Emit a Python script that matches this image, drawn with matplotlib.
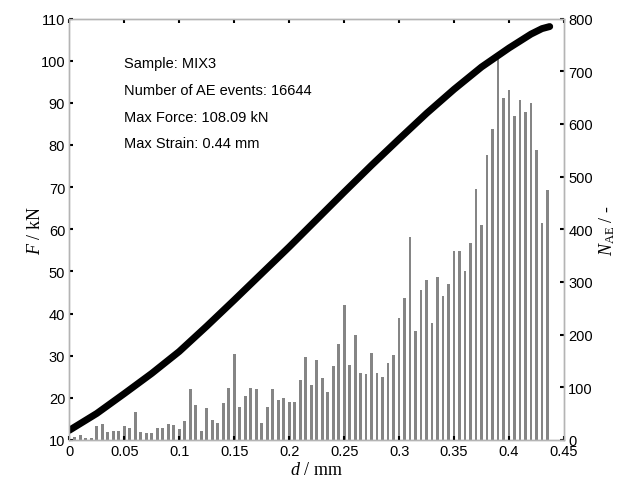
import matplotlib
matplotlib.use("Agg")
import matplotlib.pyplot as plt
import numpy as np

# --- data ---
bin_pos = [round(0.005 * (i + 1), 3) for i in range(87)]  # bar positions (mm)
ae_counts = [5, 10, 3, 3, 26, 30, 15, 18, 18, 26,
             22, 53, 15, 13, 13, 23, 23, 30, 28, 20,
             36, 96, 66, 18, 61, 38, 33, 71, 99, 163,
             63, 84, 99, 96, 33, 63, 96, 76, 80, 73,
             73, 114, 157, 104, 152, 117, 92, 140, 183, 257,
             143, 199, 127, 125, 166, 127, 120, 147, 161, 231,
             270, 386, 206, 285, 303, 223, 310, 273, 297, 358,
             358, 320, 374, 477, 409, 541, 590, 726, 650, 665,
             615, 645, 622, 640, 551, 412, 475]
disp = [0, 0.025, 0.05, 0.075, 0.1, 0.125, 0.15, 0.175, 0.2, 0.225, 0.25,
        0.275, 0.3, 0.325, 0.35, 0.375, 0.4, 0.42, 0.43, 0.437]
force = [12.3, 16.3, 21.0, 25.8, 31.0, 37.0, 43.2, 49.5, 55.8, 62.3, 68.8,
         75.2, 81.4, 87.5, 93.2, 98.5, 103.0, 106.3, 107.6, 108.09]
x_ticks = [0, 0.05, 0.1, 0.15, 0.2, 0.25, 0.3, 0.35, 0.4, 0.45]
x_ticklabels = ["0", "0.05", "0.1", "0.15", "0.2", "0.25", "0.3", "0.35", "0.4", "0.45"]
f_ticks = [10, 20, 30, 40, 50, 60, 70, 80, 90, 100, 110]
n_ticks = [0, 100, 200, 300, 400, 500, 600, 700, 800]
info_lines = ["Sample: MIX3", "Number of AE events: 16644",
              "Max Force: 108.09 kN", "Max Strain: 0.44 mm"]

plt.rcParams['mathtext.fontset'] = 'custom'
plt.rcParams['mathtext.rm'] = 'Liberation Serif'
plt.rcParams['mathtext.it'] = 'Liberation Serif:italic'
plt.rcParams['font.family'] = ['Liberation Sans', 'DejaVu Sans']

fig = plt.figure(figsize=(6.24, 4.89), dpi=100)
ax = fig.add_axes([69.3 / 624, 48 / 489, 494.7 / 624, 421.5 / 489])
ax2 = ax.twinx()
ax.set_zorder(ax2.get_zorder() + 1)
ax.patch.set_visible(False)

ax2.bar(bin_pos, ae_counts, width=0.0025, color='#858585', edgecolor='none')
ax.plot(disp, force, color='black', lw=5, solid_capstyle='round', solid_joinstyle='round')

ax.set_xlim(0, 0.45)
ax.set_ylim(10, 110)
ax2.set_ylim(0, 800)
ax.set_xticks(x_ticks)
ax.set_xticklabels(x_ticklabels)
ax.set_yticks(f_ticks)
ax2.set_yticks(n_ticks)

spine_col = '#b4b4b4'
for a in (ax, ax2):
    for s in a.spines.values():
        s.set_color(spine_col)
        s.set_linewidth(1.0)
ax.tick_params(axis='both', direction='in', length=3, width=1.5, color='black',
               labelsize=10.5, top=True, pad=3)
ax.tick_params(axis='y', right=False)
ax2.tick_params(axis='y', direction='in', length=3, width=1.5, color='black',
                labelsize=10.5, pad=3)

ax.set_xlabel(r'$d$ / mm', fontsize=13, family='Liberation Serif')
ax.set_ylabel(r'$F$ / kN', fontsize=13, family='Liberation Serif')
ax2.set_ylabel(r'$N_{\rm AE}$ / -', fontsize=13, family='Liberation Serif', rotation=90)
ax.xaxis.set_label_coords(0.5, -0.05)
ax.yaxis.set_label_coords(-0.051, 0.5)
ax2.yaxis.set_label_coords(1.067, 0.5)

for i, line in enumerate(info_lines):
    ax.text(0.1106, 0.884 - i * 0.0632, line, transform=ax.transAxes,
            fontsize=10.5, va='baseline', ha='left')

fig.savefig('out.png', dpi=100)
